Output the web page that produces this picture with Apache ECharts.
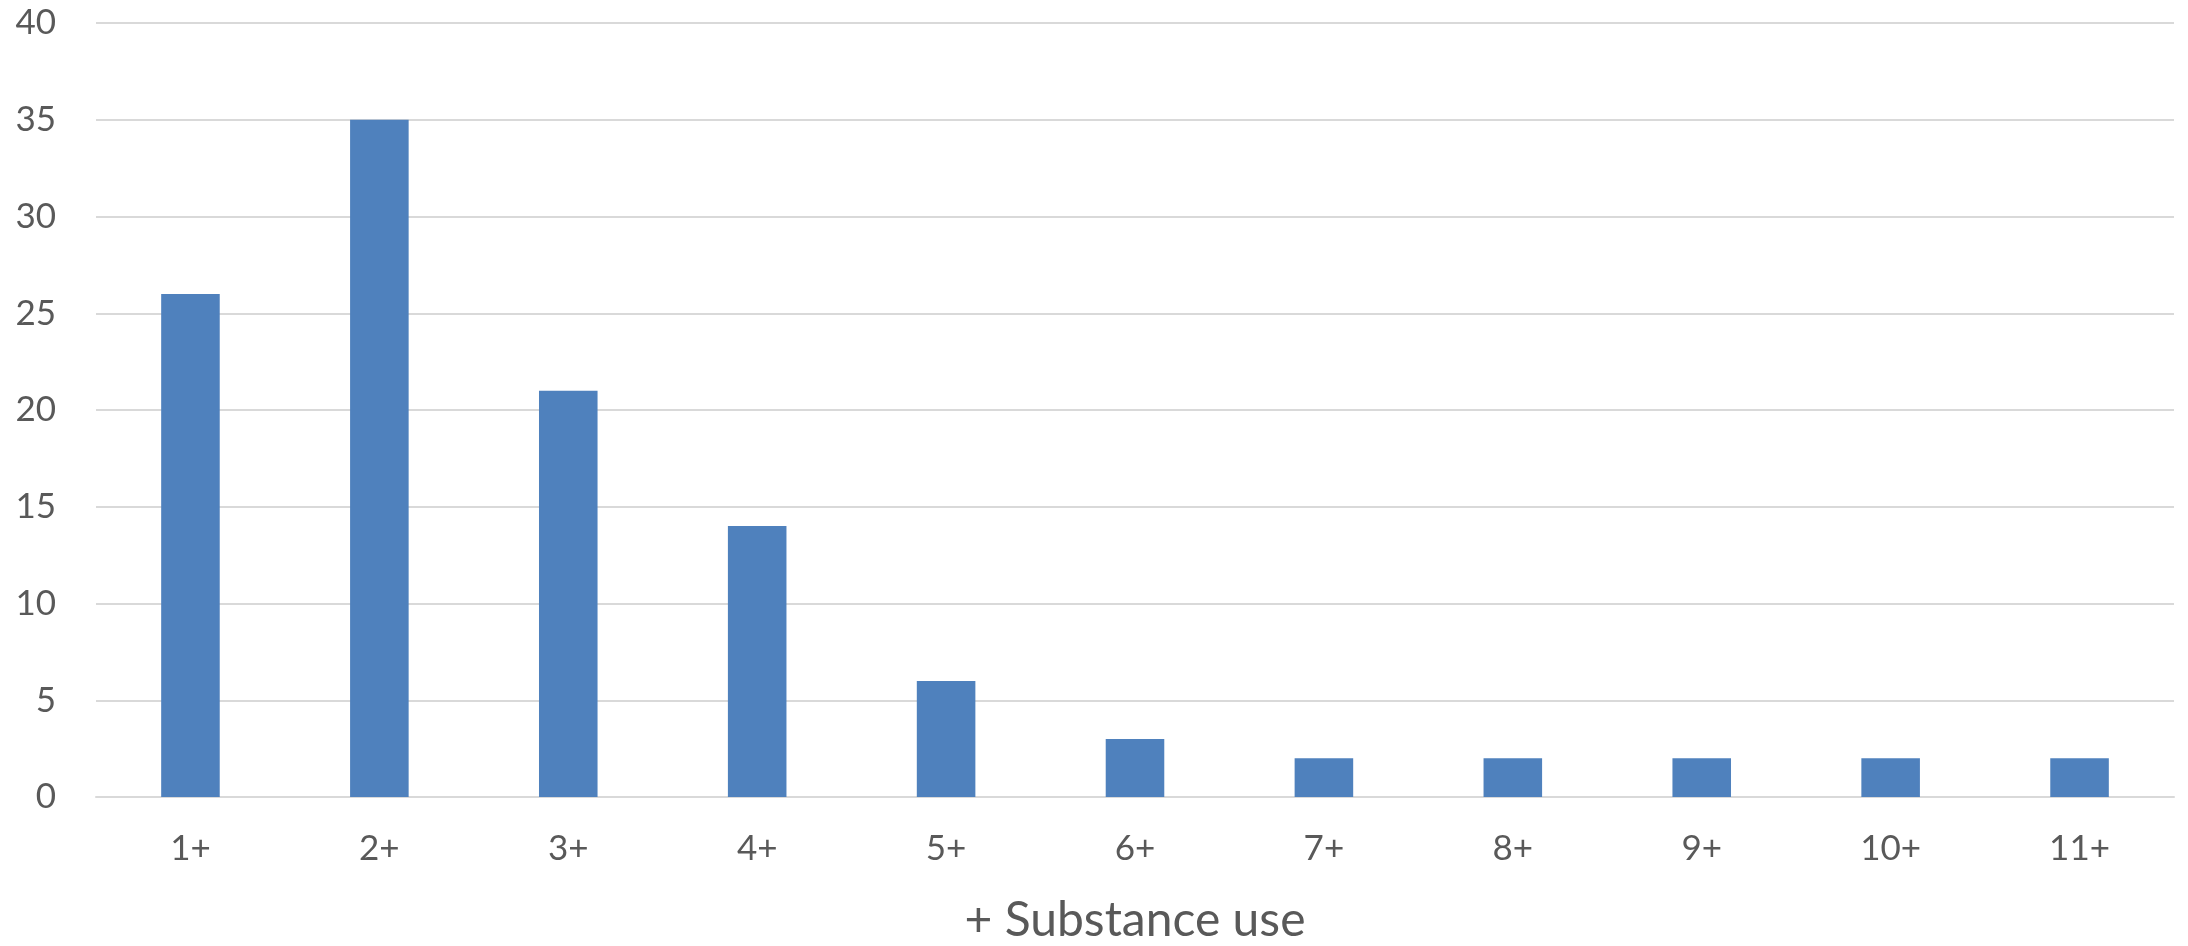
<!DOCTYPE html>
<html>
<head>
<meta charset="utf-8">
<script src="https://cdn.jsdelivr.net/npm/echarts@6/dist/echarts.min.js"></script>
<style>
  html, body { margin: 0; padding: 0; background: #ffffff; }
  #chart { width: 2188px; height: 946px; }
</style>
</head>
<body>
<div id="chart"></div>
<script>
// Number of substances used
const categories = ['1+', '2+', '3+', '4+', '5+', '6+', '7+', '8+', '9+', '10+', '11+'];
const counts = [26, 35, 21, 14, 6, 3, 2, 2, 2, 2, 2];
const xAxisTitle = '+ Substance use';

const textColor = '#595959';
const gridColor = '#d9d9d9';
const fontFamily = 'Lato, "Open Sans", sans-serif';

const chart = echarts.init(document.getElementById('chart'));
chart.setOption({
  animation: false,
  grid: { left: 96, right: 14, top: 23, bottom: 149, outerBoundsMode: 'none', containLabel: false },
  xAxis: {
    type: 'category',
    data: categories,
    name: xAxisTitle,
    nameLocation: 'middle',
    nameGap: 100,
    nameTextStyle: { color: textColor, fontSize: 48, fontFamily: fontFamily },
    axisLine: { lineStyle: { color: gridColor, width: 2 } },
    axisTick: { show: false },
    axisLabel: { color: textColor, fontSize: 35, fontFamily: fontFamily, margin: 34 }
  },
  yAxis: {
    type: 'value',
    min: 0,
    max: 40,
    interval: 5,
    axisLine: { show: false },
    axisTick: { show: false },
    splitLine: { lineStyle: { color: gridColor, width: 2 } },
    axisLabel: { color: textColor, fontSize: 35, fontFamily: fontFamily, margin: 40 }
  },
  series: [{
    type: 'bar',
    data: counts,
    barWidth: '31%',
    itemStyle: { color: '#4f81bd' }
  }]
});
</script>
</body>
</html>
